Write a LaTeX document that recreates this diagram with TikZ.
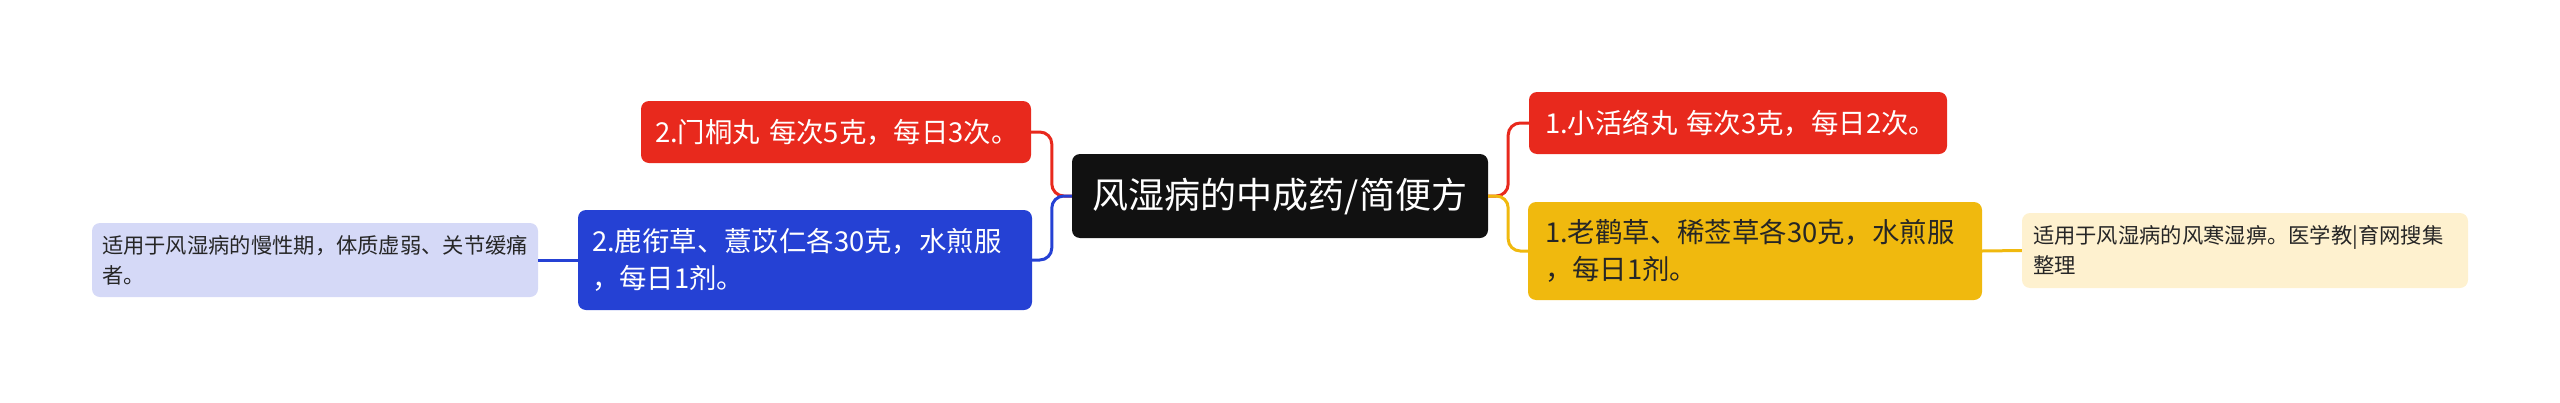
\documentclass[tikz,border=0pt]{standalone}
\usepackage{fontspec}
\setmainfont{Noto Sans CJK SC}
\definecolor{cRed}{HTML}{E8291D}
\definecolor{cBlue}{HTML}{2541D4}
\definecolor{cYellow}{HTML}{F0B90E}
\definecolor{cLBlue}{HTML}{D5D9F7}
\definecolor{cCream}{HTML}{FEF1CF}
\definecolor{cBlack}{HTML}{111111}
\definecolor{cText}{HTML}{262626}
\tikzset{
  box/.style={rectangle, rounded corners=8pt, inner ysep=0pt, align=left, anchor=center},
  rootbox/.style={box, fill=cBlack, text=white, font=\fontsize{36}{44}\selectfont, align=center},
  mainbox/.style={box, font=\fontsize{27.4}{37}\selectfont},
  subbox/.style={box, font=\fontsize{21.3}{30}\selectfont, text=cText},
  link/.style={line width=3pt, rounded corners=12pt},
}
\begin{document}
\begin{tikzpicture}[x=1pt,y=-1pt]
\useasboundingbox (0,0) rectangle (2560,402);
% root
\node[rootbox, minimum width=416pt, minimum height=84pt] (c) at (1280,196) {风湿病的中成药/简便方};
% left branch
\node[mainbox, fill=cRed, text=white, inner xsep=14pt, text width=362pt, minimum height=62pt] (l1) at (836,132) {2.门桐丸~每次5克，每日3次。};
\node[mainbox, fill=cBlue, text=white, inner xsep=14pt, text width=426pt, minimum height=100pt] (l2) at (805,260) {2.鹿衔草、薏苡仁各30克，水煎服\\，每日1剂。};
\node[subbox, fill=cLBlue, inner xsep=10pt, text width=426pt, minimum height=74pt] (ll) at (315,260) {适用于风湿病的慢性期，体质虚弱、关节缓痛\\者。};
% right branch
\node[mainbox, fill=cRed, text=white, inner xsep=16pt, text width=386pt, minimum height=62pt] (r1) at (1738,123) {1.小活络丸~每次3克，每日2次。};
\node[mainbox, fill=cYellow, text=cText, inner xsep=17pt, text width=420pt, minimum height=98pt] (r2) at (1755,251) {1.老鹳草、稀莶草各30克，水煎服\\，每日1剂。};
\node[subbox, fill=cCream, inner xsep=11pt, text width=424pt, minimum height=75pt] (rr) at (2245,250.5) {适用于风湿病的风寒湿痹。医学教|育网搜集\\整理};
% connectors
\draw[link, cRed] (c.west) -- ++(-20,0) |- (l1.east);
\draw[link, cBlue] (c.west) -- ++(-20,0) |- (l2.east);
\draw[link, cRed] (c.east) -- ++(20,0) |- (r1.west);
\draw[link, cYellow] (c.east) -- ++(20,0) |- (r2.west);
\draw[line width=3pt, cBlue] (l2.west) -- (ll.east);
\draw[line width=3pt, cYellow] (r2.east) -- (rr.west);
\end{tikzpicture}
\end{document}
